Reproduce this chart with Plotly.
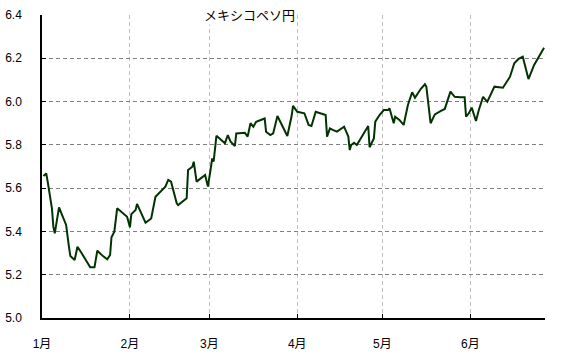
import plotly.graph_objects as go

# (vertices of the line)
dates = [
    "2023-01-01 12:00", "2023-01-02 12:00", "2023-01-03", "2023-01-04 12:00", "2023-01-05",
    "2023-01-05 12:00", "2023-01-07", "2023-01-08", "2023-01-09 12:00", "2023-01-10 12:00",
    "2023-01-11", "2023-01-12 12:00", "2023-01-13 12:00", "2023-01-15", "2023-01-17",
    "2023-01-18", "2023-01-19 12:00", "2023-01-20 12:00", "2023-01-22 12:00", "2023-01-24",
    "2023-01-25", "2023-01-25 12:00", "2023-01-26 12:00", "2023-01-27 12:00", "2023-01-31",
    "2023-02-01", "2023-02-01 12:00", "2023-02-03", "2023-02-03 12:00", "2023-02-06 12:00",
    "2023-02-08 12:00", "2023-02-10", "2023-02-13 12:00", "2023-02-14 12:00", "2023-02-15 12:00",
    "2023-02-17 12:00", "2023-02-18", "2023-02-21", "2023-02-21 12:00", "2023-02-23",
    "2023-02-23 12:00", "2023-02-24 12:00", "2023-02-27 12:00", "2023-02-28 12:00", "2023-03-01 12:00",
    "2023-03-02", "2023-03-02 12:00", "2023-03-03 12:00", "2023-03-06 12:00", "2023-03-07 12:00",
    "2023-03-08 12:00", "2023-03-10", "2023-03-10 12:00", "2023-03-13 12:00", "2023-03-14 12:00",
    "2023-03-15 12:00", "2023-03-16 12:00", "2023-03-17 12:00", "2023-03-20 12:00", "2023-03-21",
    "2023-03-22 12:00", "2023-03-23 12:00", "2023-03-25", "2023-03-28 12:00", "2023-03-30",
    "2023-03-30 12:00", "2023-04-01", "2023-04-03 12:00", "2023-04-05", "2023-04-06",
    "2023-04-07 12:00", "2023-04-09 12:00", "2023-04-11", "2023-04-11 12:00", "2023-04-12 12:00",
    "2023-04-13 12:00", "2023-04-15", "2023-04-17 12:00", "2023-04-19", "2023-04-19 12:00",
    "2023-04-20", "2023-04-21", "2023-04-22", "2023-04-26", "2023-04-26 12:00",
    "2023-04-28", "2023-04-28 12:00", "2023-04-30", "2023-05-01 12:00", "2023-05-03",
    "2023-05-03 12:00", "2023-05-05", "2023-05-05 12:00", "2023-05-07", "2023-05-08 12:00",
    "2023-05-10", "2023-05-11 12:00", "2023-05-12 12:00", "2023-05-14 12:00", "2023-05-16",
    "2023-05-16 12:00", "2023-05-18", "2023-05-19 12:00", "2023-05-21 12:00", "2023-05-23",
    "2023-05-25", "2023-05-26 12:00", "2023-05-28 12:00", "2023-05-30", "2023-05-30 12:00",
    "2023-05-31 12:00", "2023-06-01 12:00", "2023-06-03", "2023-06-04", "2023-06-05 12:00",
    "2023-06-07", "2023-06-09 12:00", "2023-06-12 12:00", "2023-06-14", "2023-06-15",
    "2023-06-16 12:00", "2023-06-18", "2023-06-19 12:00", "2023-06-21", "2023-06-21 12:00",
    "2023-06-23 12:00", "2023-06-27",
]
values = [
    5.656, 5.668, 5.630, 5.507, 5.422,
    5.391, 5.511, 5.476, 5.430, 5.329,
    5.286, 5.268, 5.329, 5.299, 5.255,
    5.234, 5.234, 5.311, 5.286, 5.271,
    5.291, 5.373, 5.399, 5.507, 5.468,
    5.419, 5.480, 5.499, 5.527, 5.440,
    5.460, 5.560, 5.607, 5.638, 5.630,
    5.530, 5.522, 5.553, 5.684, 5.699,
    5.722, 5.630, 5.661, 5.607, 5.692,
    5.738, 5.722, 5.842, 5.807, 5.845,
    5.815, 5.795, 5.853, 5.856, 5.838,
    5.900, 5.884, 5.907, 5.922, 5.861,
    5.845, 5.853, 5.933, 5.841, 5.933,
    5.980, 5.953, 5.946, 5.892, 5.887,
    5.953, 5.946, 5.938, 5.838, 5.876,
    5.869, 5.861, 5.884, 5.838, 5.776,
    5.799, 5.810, 5.799, 5.887, 5.789,
    5.830, 5.907, 5.938, 5.961, 5.961,
    5.969, 5.900, 5.930, 5.915, 5.892,
    5.984, 6.043, 6.018, 6.058, 6.080,
    6.069, 5.900, 5.941, 5.956, 5.966,
    6.046, 6.022, 6.020, 6.020, 5.930,
    5.946, 5.972, 5.910, 5.961, 6.022,
    5.999, 6.069, 6.064, 6.092, 6.115,
    6.177, 6.197, 6.207, 6.138, 6.104,
    6.169, 6.249,
]
month_ticks = ["2023-01-01", "2023-02-01", "2023-03-01", "2023-04-01", "2023-05-01", "2023-06-01"]
month_labels = ["1月", "2月", "3月", "4月", "5月", "6月"]
y_ticks = [5.0, 5.2, 5.4, 5.6, 5.8, 6.0, 6.2, 6.4]
title_text = "メキシコペソ円"

FONT = "Liberation Sans, Arial, Noto Sans CJK JP, sans-serif"

fig = go.Figure()
fig.add_trace(go.Scatter(
    x=dates, y=values, mode="lines",
    line=dict(color="#003300", width=2),
    hoverinfo="skip", showlegend=False,
))

fig.update_layout(
    width=567, height=355,
    margin=dict(l=42, r=22, t=15, b=37),
    paper_bgcolor="white", plot_bgcolor="white",
    font=dict(family=FONT, size=12, color="#000000"),
    showlegend=False,
)
fig.update_xaxes(
    type="date",
    range=["2023-01-01", "2023-06-27 08:00"],
    tickmode="array", tickvals=month_ticks, ticktext=month_labels,
    showgrid=True, gridcolor="#c0c0c0", griddash="4px,3px", gridwidth=1,
    showline=True, linecolor="#000000", linewidth=1.5,
    ticks="inside", ticklen=4, tickcolor="#000000", tickwidth=1,
    ticklabelstandoff=14, automargin=False,
    tickfont=dict(family=FONT, size=12, color="#000000"),
    zeroline=False,
)
fig.update_yaxes(
    range=[5.0, 6.4],
    tickmode="array", tickvals=y_ticks, ticktext=[f"{v:.1f}" for v in y_ticks],
    showgrid=True, gridcolor="#808080", griddash="4px,3px", gridwidth=1,
    showline=True, linecolor="#000000", linewidth=1.5,
    ticks="inside", ticklen=4, tickcolor="#000000", tickwidth=1,
    ticklabelstandoff=16, automargin=False,
    tickfont=dict(family=FONT, size=12, color="#000000"),
    zeroline=False,
)
fig.add_annotation(
    text=title_text, xref="paper", yref="paper", x=0.412, y=1.0,
    xanchor="center", yanchor="middle", yshift=1, showarrow=False,
    bgcolor="white", borderpad=0,
    font=dict(family="Noto Sans CJK JP, sans-serif", size=13, color="#000000"),
)

fig.write_html("out.html")
